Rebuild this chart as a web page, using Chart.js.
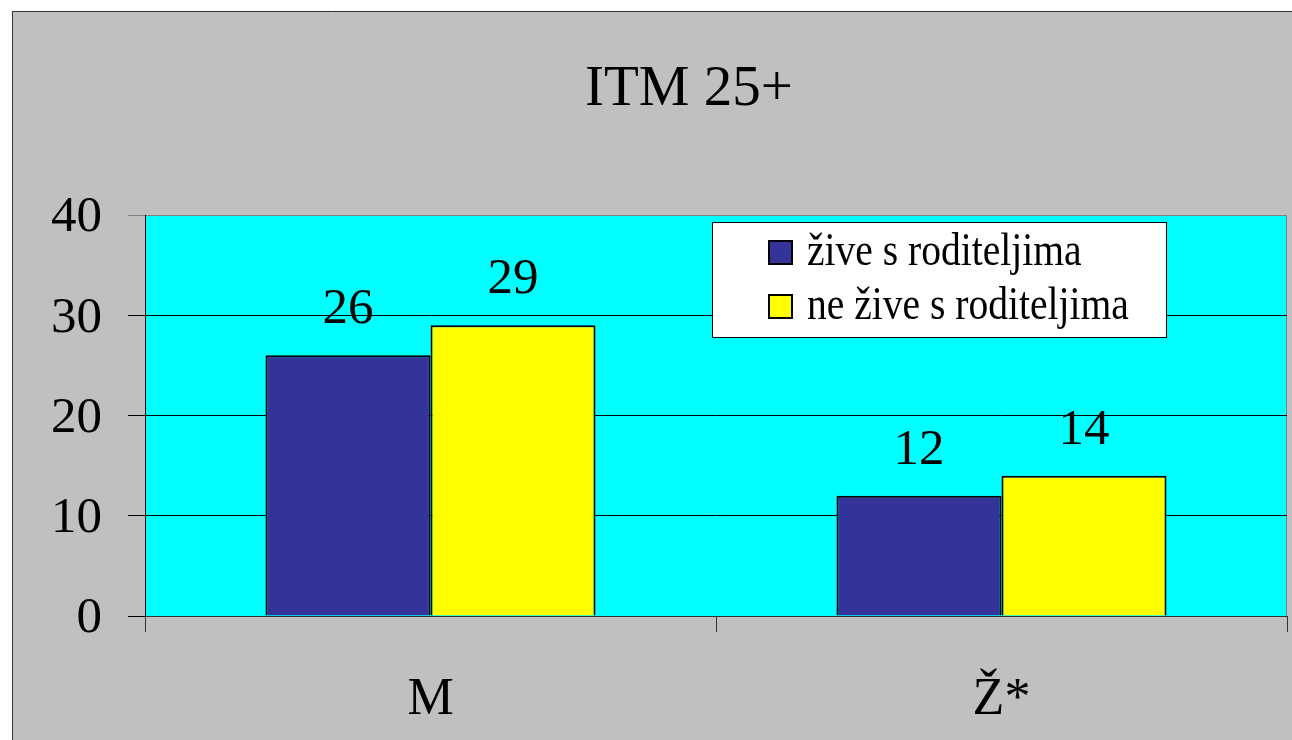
<!DOCTYPE html>
<html>
<head>
<meta charset="utf-8">
<title>ITM 25+</title>
<script src="https://cdn.jsdelivr.net/npm/chart.js@4.4.1/dist/chart.umd.min.js"></script>
<style>
  html, body { margin: 0; padding: 0; background: #fff; }
  #wrap { width: 1292px; height: 740px; position: relative; }
</style>
</head>
<body>
<div id="wrap"><canvas id="graficoITM"></canvas></div>
<script>
// podaci
const kategorije = ['M', 'Ž*'];
const ziveSRoditeljima = [26, 12];
const neZiveSRoditeljima = [29, 14];
const yTicks = [0, 10, 20, 30, 40];
const naslov = 'ITM 25+';

const SERIF = "'Liberation Serif', 'Times New Roman', serif";

// pozadina: okvir + cijan podrucje grafa
const pozadina = {
  id: 'pozadina',
  beforeDraw(chart) {
    const { ctx, width, height, chartArea: a } = chart;
    ctx.save();
    ctx.fillStyle = '#ffffff';
    ctx.fillRect(0, 0, width, height);
    ctx.fillStyle = '#c0c0c0';
    ctx.fillRect(12, 11, width, height);
    ctx.strokeStyle = '#333333';
    ctx.lineWidth = 1;
    ctx.beginPath();
    ctx.moveTo(12.5, height);
    ctx.lineTo(12.5, 11.5);
    ctx.lineTo(width, 11.5);
    ctx.stroke();
    ctx.fillStyle = '#00ffff';
    ctx.fillRect(a.left, a.top, a.right - a.left, a.bottom - a.top);
    ctx.strokeStyle = '#808080';
    ctx.strokeRect(a.left + 0.5, a.top + 0.5, a.right - a.left - 1, a.bottom - a.top);

    // naslov (nije centriran na platnu u originalu)
    ctx.font = '57px ' + SERIF;
    ctx.fillStyle = '#000';
    ctx.textAlign = 'center';
    ctx.textBaseline = 'alphabetic';
    ctx.fillText(naslov, 689, 105);
    ctx.restore();
  }
};

// vrijednosti iznad stupaca
const oznake = {
  id: 'oznake',
  afterDatasetsDraw(chart) {
    const { ctx } = chart;
    ctx.save();
    ctx.font = '51px ' + SERIF;
    ctx.fillStyle = '#000';
    ctx.textAlign = 'center';
    ctx.textBaseline = 'alphabetic';
    chart.data.datasets.forEach((ds, i) => {
      chart.getDatasetMeta(i).data.forEach((bar, j) => {
        ctx.fillText(String(ds.data[j]), bar.x, bar.y - 32);
      });
    });
    ctx.restore();
  }
};

// legenda u bijelom okviru
const legenda = {
  id: 'legenda',
  afterDatasetsDraw(chart) {
    const { ctx } = chart;
    const x0 = 712, y0 = 222, w = 454, h = 115;
    ctx.save();
    ctx.fillStyle = '#ffffff';
    ctx.fillRect(x0, y0, w, h);
    ctx.strokeStyle = '#000';
    ctx.lineWidth = 1;
    ctx.strokeRect(x0 + 0.5, y0 + 0.5, w, h);
    chart.data.datasets.forEach((ds, i) => {
      const sy = 240 + i * 54;
      ctx.fillStyle = ds.backgroundColor;
      ctx.fillRect(768, sy, 25, 25);
      ctx.lineWidth = 2;
      ctx.strokeStyle = '#000';
      ctx.strokeRect(769, sy + 1, 23, 23);
      ctx.save();
      ctx.translate(807, 265 + i * 54);
      ctx.scale(0.86, 1);
      ctx.font = '46px ' + SERIF;
      ctx.fillStyle = '#000';
      ctx.textBaseline = 'alphabetic';
      ctx.fillText(ds.label, 0, 0);
      ctx.restore();
    });
    ctx.restore();
  }
};

new Chart(document.getElementById('graficoITM'), {
  type: 'bar',
  data: {
    labels: kategorije,
    datasets: [
      {
        label: 'žive s roditeljima',
        data: ziveSRoditeljima,
        backgroundColor: '#333399',
        borderColor: '#000000',
        borderWidth: 2
      },
      {
        label: 'ne žive s roditeljima',
        data: neZiveSRoditeljima,
        backgroundColor: '#ffff00',
        borderColor: '#000000',
        borderWidth: 2
      }
    ]
  },
  options: {
    responsive: true,
    maintainAspectRatio: false,
    animation: false,
    devicePixelRatio: 1,
    categoryPercentage: 0.578,
    barPercentage: 1,
    layout: { padding: { left: 12, right: 5, top: 215, bottom: 0 } },
    plugins: {
      legend: { display: false },
      tooltip: { enabled: false },
      title: { display: false }
    },
    scales: {
      x: {
        grid: {
          drawOnChartArea: false,
          drawTicks: true,
          tickLength: 16,
          color: '#333333'
        },
        border: { display: true, color: '#333333', width: 1 },
        ticks: {
          color: '#000',
          font: { family: SERIF, size: 52 },
          padding: 37
        },
        afterFit(scale) { scale.height = 124; }
      },
      y: {
        min: 0,
        max: 40,
        afterBuildTicks(scale) { scale.ticks = yTicks.map(v => ({ value: v })); },
        grid: {
          color: (c) => (c.tick && c.tick.value === 40) ? '#808080' : '#000000',
          lineWidth: 1,
          tickLength: 17
        },
        border: { display: true, color: '#000000', width: 1 },
        ticks: {
          color: '#000',
          font: { family: SERIF, size: 51 },
          padding: 26,
          labelOffset: 3
        },
        afterFit(scale) { scale.width = 133; }
      }
    }
  },
  plugins: [pozadina, oznake, legenda]
});
</script>
</body>
</html>
